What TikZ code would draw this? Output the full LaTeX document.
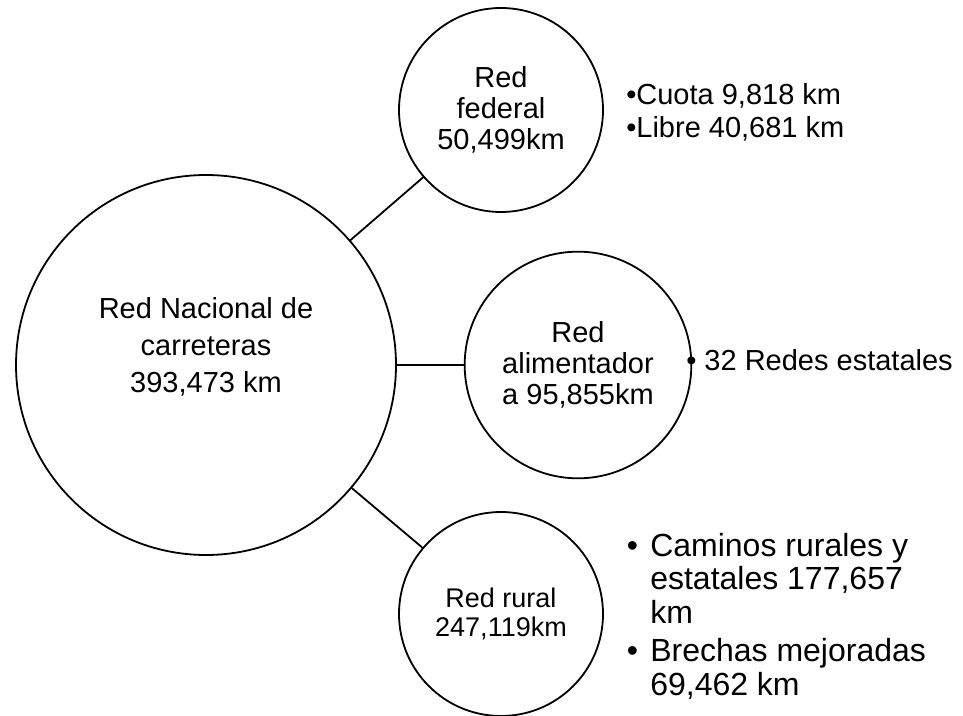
\documentclass[tikz,border=0pt]{standalone}
\usepackage{fontspec}
\setmainfont{Liberation Sans}
\usepackage{tikz}
\usetikzlibrary{positioning}

\begin{document}
\begin{tikzpicture}[line cap=round,line join=round,x=0.75pt,y=-0.75pt,
  circulo/.style={circle,draw=black,line width=1.35pt,inner sep=0pt,align=center},
  texto/.style={inner sep=0pt,align=center},
  lista/.style={inner sep=0pt,align=left}]
\useasboundingbox (0,0) rectangle (963,716);
\node[circulo,minimum size=285pt] (nacional) at (206,365) {};
\node[texto,font=\fontsize{21.75}{27.75}\selectfont] (nacionaltxt) at (206,347) {Red Nacional de\\carreteras\\393,473 km};
\node[circulo,minimum size=153pt,font=\fontsize{21.75}{23.4}\selectfont] (federal) at (501,110) {Red\\federal\\50,499km};
\node[circulo,minimum size=170pt,font=\fontsize{21.75}{23.4}\selectfont] (alim) at (578,365) {Red\\alimentador\\a 95,855km};
\node[circulo,minimum size=153pt,font=\fontsize{20.25}{21.75}\selectfont] (rural) at (501,614) {Red rural\\247,119km};
\draw[line width=1.35pt] (nacional) -- (federal);
\draw[line width=1.35pt] (nacional.east) -- (alim.west);
\draw[line width=1.35pt] (nacional) -- (rural);
\node[lista,anchor=north west,font=\fontsize{21.75}{24.75}\selectfont] (federallst) at (626,83) {\textbullet Cuota 9,818 km\\\textbullet Libre 40,681 km};
\node[lista,anchor=base west,font=\fontsize{21.75}{24.75}\selectfont] (alimlst) at (686,370) {\textbullet{} 32 Redes estatales};
\node[lista,anchor=north west,font=\fontsize{24}{25}\selectfont] (rurallst) at (650,533) {\llap{\textbullet\hspace{9.2pt}}Caminos rurales y\\estatales 177,657\\km\\[4pt]\llap{\textbullet\hspace{9.2pt}}Brechas mejoradas\\69,462 km};
\end{tikzpicture}
\end{document}
